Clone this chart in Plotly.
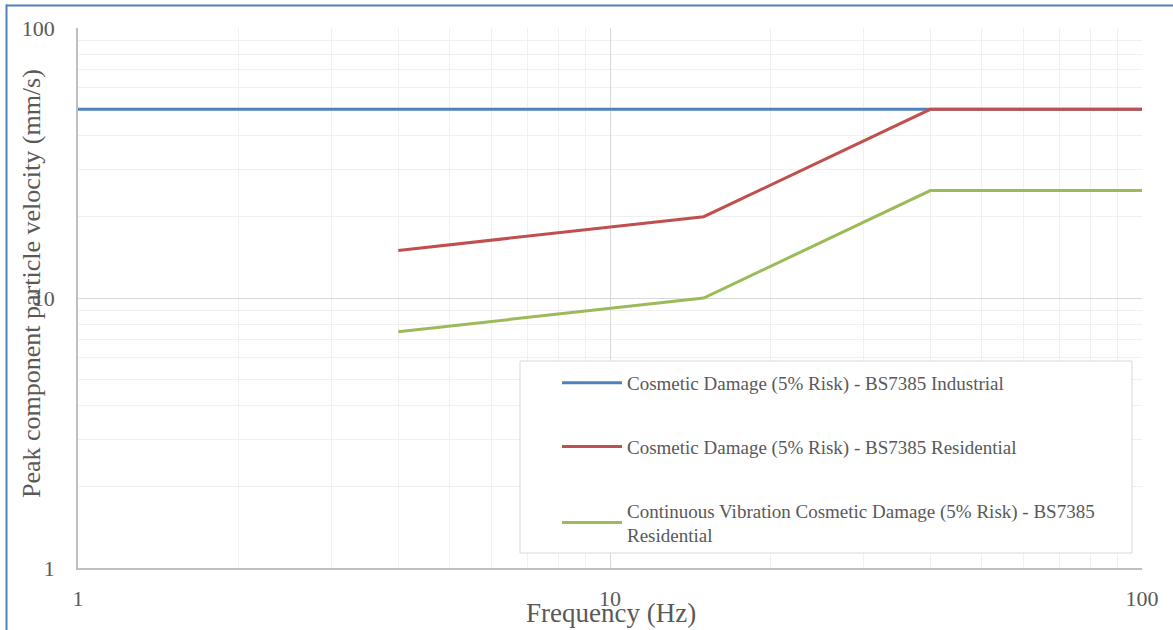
import plotly.graph_objects as go

# Data
freq_industrial = [1, 100]
ppv_industrial = [50, 50]
freq_residential = [4, 15, 40, 100]
ppv_residential = [15, 20, 50, 50]
freq_continuous = [4, 15, 40, 100]
ppv_continuous = [7.5, 10, 25, 25]

names = [
    "Cosmetic Damage (5% Risk) - BS7385 Industrial",
    "Cosmetic Damage (5% Risk) - BS7385 Residential",
    "Continuous Vibration Cosmetic Damage (5% Risk) - BS7385<br>Residential",
]
colors = ["#4f81bd", "#c0504d", "#9bbb59"]

FONT = "Liberation Serif"
TXT = "#595959"

fig = go.Figure()
for i, (x, y) in enumerate([(freq_industrial, ppv_industrial),
                            (freq_residential, ppv_residential),
                            (freq_continuous, ppv_continuous)]):
    fig.add_trace(go.Scatter(x=x, y=y, mode="lines", name=names[i],
                             legendgroup=f"g{i}",
                             line=dict(color=colors[i], width=3)))

OFF = 0  # page body margin removed via post_script
W, H = 1173, 630
L, T = 78 - OFF, 28 - OFF
R = W - (1142 - OFF)
B = H - (568 - OFF)
pw, ph = W - L - R, H - T - B

def px(xs):
    return (xs - OFF - L) / pw

def py(ys):
    return (H - B - (ys - OFF)) / ph

axis_common = dict(
    type="log", range=[0, 2], dtick=1, automargin=False,
    showgrid=True, gridcolor="#d9d9d9", gridwidth=1,
    minor=dict(showgrid=True, gridcolor="#f0f0f0", gridwidth=1, dtick="D1"),
    showline=True, linecolor="#bfbfbf", linewidth=1.5,
    tickfont=dict(family=FONT, size=22, color=TXT),
    ticks="", zeroline=False,
)

fig.update_layout(
    width=W, height=H,
    margin=dict(l=L, r=R, t=T, b=B, autoexpand=False),
    plot_bgcolor="white", paper_bgcolor="white",
    xaxis=dict(axis_common, ticklabelstandoff=10),
    yaxis=dict(axis_common, ticklabelstandoff=17),
    showlegend=True,
    legend=dict(
        x=px(557), y=py(364), xanchor="left", yanchor="top",
        bgcolor="rgba(0,0,0,0)", borderwidth=0,
        font=dict(family=FONT, size=19, color=TXT),
        traceorder="grouped", tracegroupgap=36, itemwidth=60,
    ),
    shapes=[
        dict(type="rect", xref="paper", yref="paper",
             x0=px(520), x1=px(1132), y0=py(553), y1=py(361),
             line=dict(color="#d9d9d9", width=1), fillcolor="white",
             layer="above"),
        dict(type="line", xref="paper", yref="paper",
             x0=px(6.5), x1=px(6.5), y0=py(4.5), y1=py(640),
             line=dict(color="#4f81bd", width=2)),
        dict(type="line", xref="paper", yref="paper",
             x0=px(6), x1=px(1185), y0=py(5.5), y1=py(5.5),
             line=dict(color="#4f81bd", width=2)),
    ],
    annotations=[
        dict(text="Frequency (Hz)", xref="paper", yref="paper",
             x=px(611), y=py(613), xanchor="center", yanchor="middle",
             showarrow=False,
             font=dict(family=FONT, size=27, color=TXT)),
        dict(text="Peak component particle velocity (mm/s)", xref="paper",
             yref="paper", x=px(31), y=py(284), textangle=-90,
             xanchor="center", yanchor="middle",
             showarrow=False, font=dict(family=FONT, size=26, color=TXT)),
    ],
)

fig.write_html("out.html",
               config={"displayModeBar": False},
               post_script="document.body.style.margin='0px';")
